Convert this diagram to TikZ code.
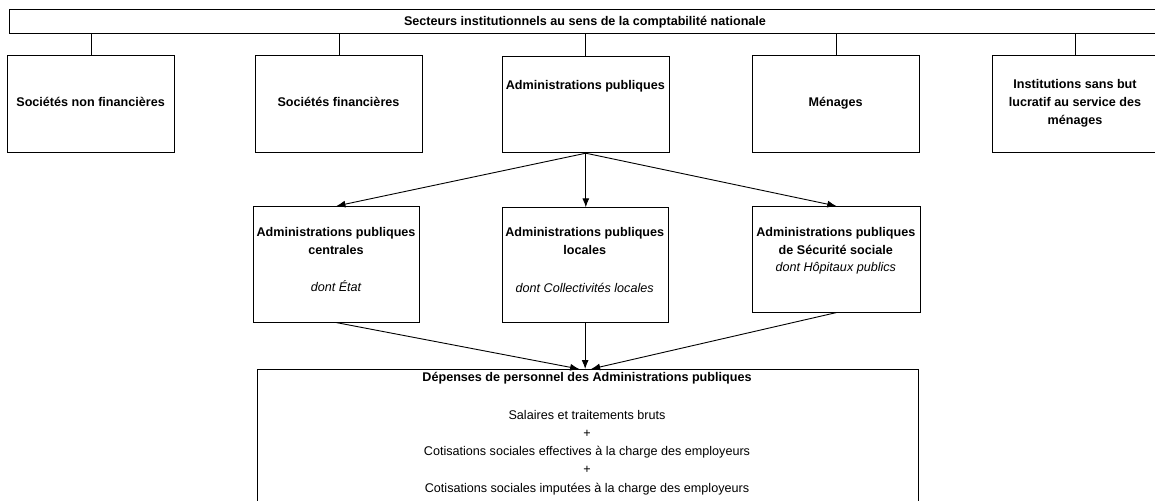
\documentclass[tikz,border=0pt]{standalone}
\usepackage{fontspec}
\setmainfont{Liberation Sans}
\usetikzlibrary{arrows.meta,calc}
\begin{document}
\begin{tikzpicture}[x=1pt,y=-1pt,
  box/.style={draw, line width=0.9pt, inner sep=0pt, anchor=north west},
  lbl/.style={inner sep=0pt, anchor=base, font=\fontsize{12.6}{18}\selectfont},
  blbl/.style={lbl, font=\fontsize{12.6}{18}\selectfont\bfseries},
  ilbl/.style={lbl, font=\fontsize{12.6}{18}\selectfont\itshape},
  conn/.style={line width=0.9pt},
  arr/.style={line width=0.9pt, -{Latex[length=9pt,width=7pt]}}]
\useasboundingbox (0,0) rectangle (1155,500);
\fill[white] (0,0) rectangle (1155,500);
% boxes
\node[box, minimum width=1153pt, minimum height=24pt] (top) at (9,9.3) {};
\node[box, minimum width=166.7pt, minimum height=96.7pt] (b1) at (7.3,55) {};
\node[box, minimum width=167pt, minimum height=96.7pt] (b2) at (255,55) {};
\node[box, minimum width=166.7pt, minimum height=96.3pt] (b3) at (502,56) {};
\node[box, minimum width=166.7pt, minimum height=96.7pt] (b4) at (752.3,55) {};
\node[box, minimum width=166.7pt, minimum height=96.7pt] (b5) at (991.7,55) {};
\node[box, minimum width=166.6pt, minimum height=115.7pt] (c1) at (252.7,206) {};
\node[box, minimum width=166pt, minimum height=114.4pt] (c2) at (501.7,207.3) {};
\node[box, minimum width=168.3pt, minimum height=105.7pt] (c3) at (751.7,206) {};
\node[box, minimum width=661.5pt, minimum height=145pt] (d) at (256.5,369) {};
% texts
\node[blbl] (tt) at (585,25.5) {Secteurs institutionnels au sens de la comptabilité nationale};
\node[blbl] (t1) at (90.6,106.5) {Sociétés non financières};
\node[blbl] (t2) at (338.5,106.5) {Sociétés financières};
\node[blbl] (t3) at (585.3,89.5) {Administrations publiques};
\node[blbl] (t4) at (835.6,106.5) {Ménages};
\node[blbl] (t5a) at (1075,88.5) {Institutions sans but};
\node[blbl] (t5b) at (1075,106.5) {lucratif au service des};
\node[blbl] (t5c) at (1075,124.5) {ménages};
\node[blbl] (u1a) at (336,236.5) {Administrations publiques};
\node[blbl] (u1b) at (336,254.5) {centrales};
\node[ilbl] (u1c) at (336,291.5) {dont État};
\node[blbl] (u2a) at (584.7,236.5) {Administrations publiques};
\node[blbl] (u2b) at (584.7,254.5) {locales};
\node[ilbl] (u2c) at (584.7,292) {dont Collectivités locales};
\node[blbl] (u3a) at (835.8,236.5) {Administrations publiques};
\node[blbl] (u3b) at (835.8,254.5) {de Sécurité sociale};
\node[ilbl] (u3c) at (835.8,271.5) {dont Hôpitaux publics};
\node[blbl] (d1) at (587,381.5) {Dépenses de personnel des Administrations publiques};
\node[lbl] (d2) at (587,419.5) {Salaires et traitements bruts};
\node[lbl] (d3) at (587,437.5) {+};
\node[lbl] (d4) at (587,455.5) {Cotisations sociales effectives à la charge des employeurs};
\node[lbl] (d5) at (587,473.5) {+};
\node[lbl] (d6) at (587,492.5) {Cotisations sociales imputées à la charge des employeurs};
% connectors
\foreach \b in {b1,b2,b3,b4,b5}
  \draw[conn] (\b.north |- top.south) -- (\b.north);
\draw[arr] (b3.south) -- (c1.north);
\draw[arr] (b3.south) -- (c2.north -| b3.south);
\draw[arr] (b3.south) -- (c3.north);
\coordinate (m) at (c2.south |- d.north);
\draw[arr] (c1.south) -- ([xshift=-6pt]m);
\draw[arr] (c2.south) -- (m);
\draw[arr] (c3.south) -- ([xshift=6pt]m);
\end{tikzpicture}
\end{document}
